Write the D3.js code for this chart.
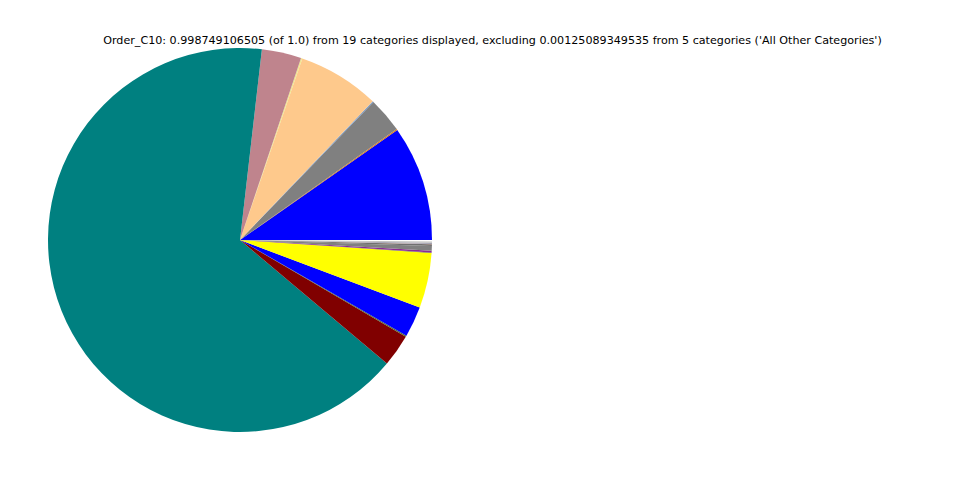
<!DOCTYPE html>
<html><head><meta charset="utf-8">
<script src="https://cdn.jsdelivr.net/npm/d3@7"></script>
<style>body{margin:0;background:#fff}</style>
</head><body>
<svg id="c" width="960" height="480"></svg>
<script>
const title = "Order_C10: 0.998749106505 (of 1.0) from 19 categories displayed, excluding 0.00125089349535 from 5 categories ('All Other Categories')";
const categories = ["c1","c2","c3","c4","c5","c6","c7","c8","c9","c10","c11","c12","c13","c14","c15","c16","c17","c18","c19"];
const values = [0.0972,0.0008,0.0297,0.0008,0.0689,0.0011,0.0333,0.6569,0.0272,0.0011,0.0258,0.0465,0.0003,0.0014,0.0040,0.0014,0.0003,0.0011,0.0010];
const colors = ["#0000ff","#e07b10","#808080","#7096c8","#fec98c","#f0e68c","#bf848d","#008080","#800000","#556b2f","#0000ff","#ffff00","#555555","#8b2a95","#808080","#707070","#e9967a","#a0a0b0","#c0c0c0"];

const svg = d3.select("#c");
const cx = 240, cy = 240, R = 192;
const total = d3.sum(values);
const pie = d3.pie().sort(null).value(d => d.v)
  .startAngle(Math.PI/2).endAngle(Math.PI/2 - 2*Math.PI*total);
const data = categories.map((c,i)=>({c, v: values[i], col: colors[i]}));
const arc = d3.arc().innerRadius(0).outerRadius(R);
svg.append("g").attr("transform",`translate(${cx},${cy})`)
  .selectAll("path").data(pie(data)).join("path")
  .attr("d", arc).attr("fill", d => d.data.col);
svg.append("text").attr("x",492.5).attr("y",44).attr("text-anchor","middle")
  .attr("font-family","DejaVu Sans").attr("font-size",11.14).text(title);
</script>
</body></html>
